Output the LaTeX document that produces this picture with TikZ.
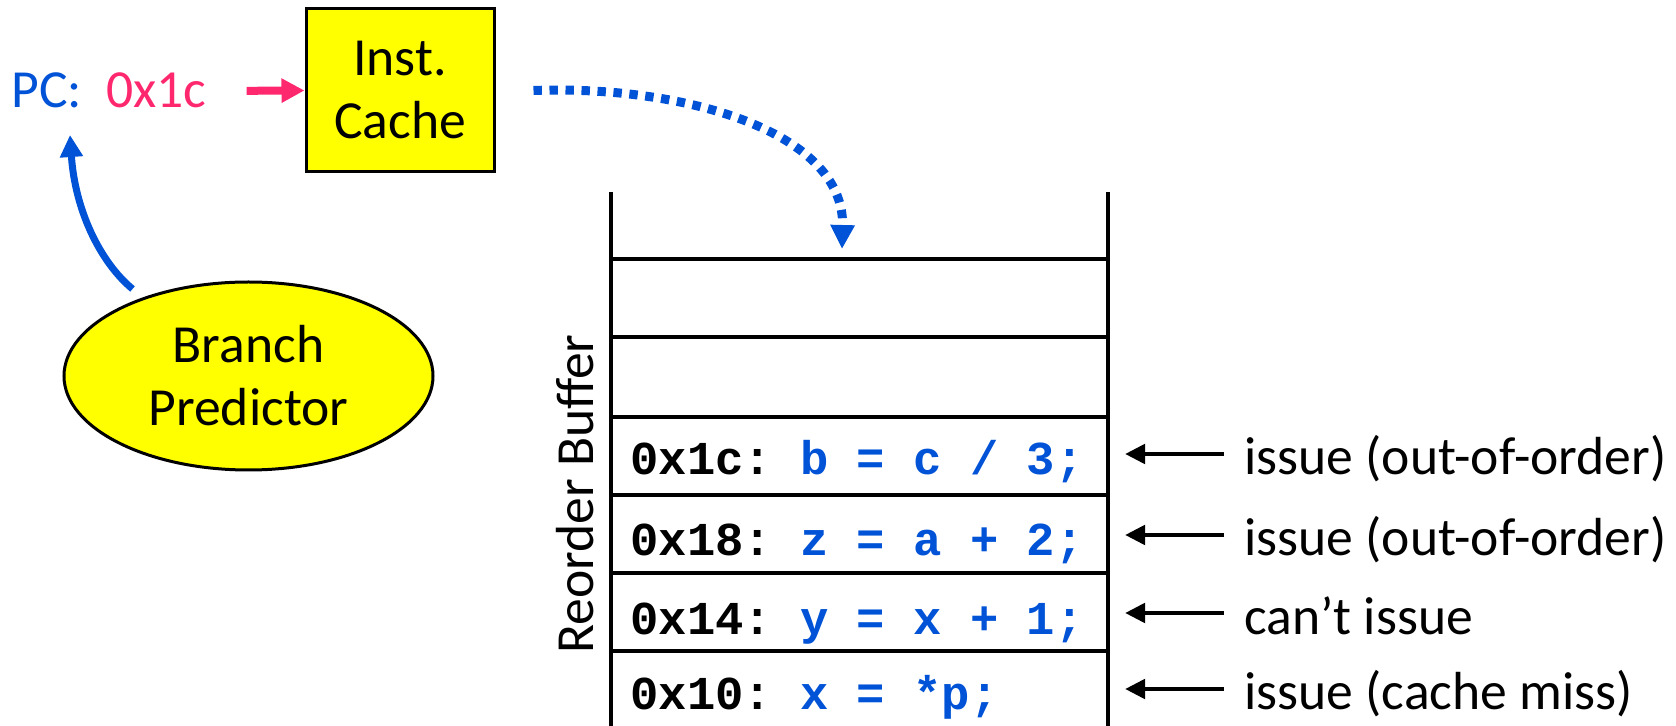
\documentclass[tikz,border=0pt]{standalone}
\usepackage{fontspec}
\setmainfont{Carlito}
\setmonofont{Liberation Mono}
\usepackage{xcolor}
\usetikzlibrary{arrows.meta,shapes.geometric}

\definecolor{pcblue}{RGB}{0,82,214}
\definecolor{pcpink}{RGB}{255,40,110}
\definecolor{unityellow}{RGB}{255,255,0}

\begin{document}
\begin{tikzpicture}[x=0.5pt,y=-0.5pt,>=Latex,
  font=\fontsize{26.8}{31.5}\selectfont,
  unit/.style={draw,line width=1.5pt,fill=unityellow,inner sep=0pt,align=center},
  code/.style={font=\fontsize{23.6}{28}\selectfont\ttfamily\bfseries\frenchspacing,inner sep=0pt,anchor=base west},
  note/.style={inner sep=0pt,anchor=base west},
  rob/.style={line width=1.7pt},
  issue/.style={line width=2.4pt,-{Triangle[length=10pt,width=9.5pt]}}]
\path[use as bounding box] (0,0) rectangle (1676,726);

% front end
\node[inner sep=0pt,anchor=base west] (pc) at (11,108)
  {\textcolor{pcblue}{PC:}\hspace{12pt}\textcolor{pcpink}{0x1c}};
\node[unit,minimum width=94pt,minimum height=81.5pt] (icache) at (400,90.5) {Inst.\\Cache};
\node[unit,ellipse,minimum width=184.5pt,minimum height=94pt] (bpred) at (248.5,376) {Branch\\Predictor};
\coordinate (pcin) at (70,135);
\coordinate (slot) at (842,249);

\draw[pcpink,line width=4pt,-{Triangle[length=11.5pt,width=11.5pt]}] ([xshift=20pt]pc.east) -- (icache.west);
\draw[pcblue,line width=3.5pt,-{Triangle[length=11pt,width=11pt]}]
  ([shift={(-3pt,5pt)}]bpred.145) .. controls (100,262) and (75,210) .. (pcin);
\draw[pcblue,line width=4.5pt,dash pattern=on 4.2pt off 3.8pt,-{Triangle[length=12pt,width=11.5pt]}]
  ([xshift=19pt]icache.east) .. controls (680,85) and (845,130) .. (slot);

% reorder buffer
\draw[rob] (611,192) -- (611,726);
\draw[rob] (1108,192) -- (1108,726);
\foreach \y in {259,337,417,495,573,651}
  \draw[rob] (611,\y) -- (1108,\y);
\node[rotate=90,inner sep=0pt] (robname) at (575,494) {Reorder Buffer};

% entries and their state
\foreach \by/\addr/\code/\what [count=\i] in {475/0x1c/{b = c / 3;}/issue (out-of-order),
    556/0x18/{z = a + 2;}/issue (out-of-order),
    634/0x14/{y = x + 1;}/can’t issue,
    710/0x10/{x = *p;}/issue (cache miss)}{
  \node[code] (r\i) at (630,\by) {\addr: \textcolor{pcblue}{\code}};
  \node[note] (l\i) at (1244,\by) {\what};
  \draw[issue] ([xshift=-10pt,yshift=10.5pt]l\i.base west) -- ++(-49.5pt,0);
}
\end{tikzpicture}
\end{document}
